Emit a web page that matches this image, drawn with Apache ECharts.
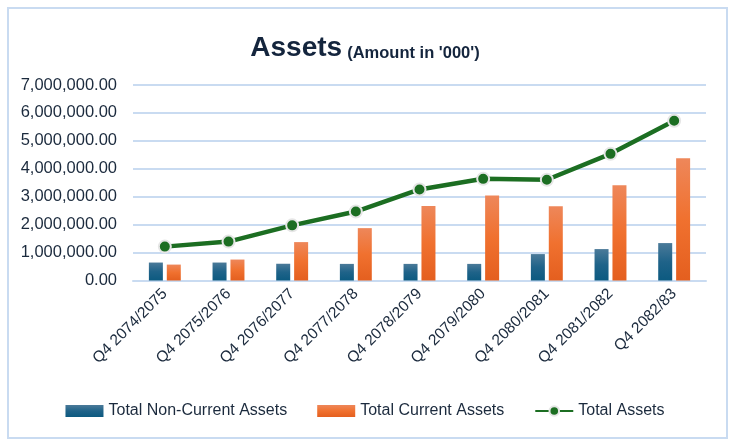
<!DOCTYPE html>
<html>
<head>
<meta charset="utf-8">
<script src="https://cdn.jsdelivr.net/npm/echarts@6/dist/echarts.min.js"></script>
<style>
  html, body { margin: 0; padding: 0; background: #fff; }
  #chart { width: 730px; height: 445px; }
</style>
</head>
<body>
<div id="chart"></div>
<script>
const categories = ['Q4 2074/2075', 'Q4 2075/2076', 'Q4 2076/2077', 'Q4 2077/2078', 'Q4 2078/2079', 'Q4 2079/2080', 'Q4 2080/2081', 'Q4 2081/2082', 'Q4 2082/83'];
const nonCurrentAssets = [643000, 643000, 600000, 595000, 595000, 595000, 946000, 1125000, 1340000];
const currentAssets = [570000, 750000, 1375000, 1875000, 2665000, 3045000, 2660000, 3410000, 4380000];
const totalAssets = [1213000, 1393000, 1975000, 2470000, 3260000, 3640000, 3606000, 4535000, 5720000];

const chart = echarts.init(document.getElementById('chart'));
const fontFamily = '"Liberation Sans", Arial, sans-serif';
const textColor = '#1B2A3D';

function fmt(v) {
  return Number(v).toLocaleString('en-US', { minimumFractionDigits: 2, maximumFractionDigits: 2 });
}

chart.setOption({
  animation: false,
  backgroundColor: '#ffffff',
  graphic: [{
    type: 'rect',
    shape: { x: 8, y: 8, width: 719, height: 430 },
    style: { fill: 'none', stroke: '#C9DBF1', lineWidth: 2 },
    silent: true
  }],
  title: {
    text: "{a|Assets} {b|(Amount in '000')}",
    left: 'center',
    top: 23,
    textStyle: {
      rich: {
        a: { fontFamily: fontFamily, fontSize: 28, fontWeight: 'bold', color: '#14253D', verticalAlign: 'bottom', lineHeight: 34 },
        b: { fontFamily: fontFamily, fontSize: 16.5, fontWeight: 'bold', color: '#14253D', verticalAlign: 'bottom', lineHeight: 30 }
      }
    }
  },
  legend: {
    bottom: 21,
    left: 'center',
    itemWidth: 38,
    itemHeight: 12,
    itemGap: 30,
    textStyle: { fontFamily: fontFamily, fontSize: 16, color: textColor, padding: [0, 0, 0, 0] },
    data: [
      { name: 'Total Non-Current Assets', icon: 'rect' },
      { name: 'Total Current Assets', icon: 'rect' },
      { name: 'Total Assets' }
    ]
  },
  grid: { left: 133, right: 24, top: 85, bottom: 164.5, containLabel: false },
  xAxis: {
    type: 'category',
    data: categories,
    axisLine: { show: true, lineStyle: { color: '#C9DBF1', width: 2 } },
    axisTick: { show: false },
    axisLabel: {
      rotate: 45,
      interval: 0,
      margin: 11,
      fontFamily: fontFamily,
      fontSize: 15.5,
      color: textColor
    }
  },
  yAxis: {
    type: 'value',
    min: 0,
    max: 7000000,
    interval: 1000000,
    axisLine: { show: false },
    axisTick: { show: false },
    splitLine: { lineStyle: { color: '#C9DBF1', width: 2 } },
    axisLabel: {
      formatter: fmt,
      margin: 16,
      fontFamily: fontFamily,
      fontSize: 16.5,
      color: textColor
    }
  },
  series: [
    {
      name: 'Total Non-Current Assets',
      type: 'bar',
      data: nonCurrentAssets,
      barWidth: 14,
      barGap: '28%',
      itemStyle: {
        color: {
          type: 'linear', x: 0, y: 0, x2: 0, y2: 1,
          colorStops: [
            { offset: 0, color: '#4B7A99' },
            { offset: 0.5, color: '#1F6389' },
            { offset: 1, color: '#0C5A80' }
          ]
        }
      }
    },
    {
      name: 'Total Current Assets',
      type: 'bar',
      data: currentAssets,
      barWidth: 14,
      itemStyle: {
        color: {
          type: 'linear', x: 0, y: 0, x2: 0, y2: 1,
          colorStops: [
            { offset: 0, color: '#EE875A' },
            { offset: 0.5, color: '#F0712F' },
            { offset: 1, color: '#E45F1F' }
          ]
        }
      }
    },
    {
      name: 'Total Assets',
      type: 'line',
      data: totalAssets,
      symbol: 'circle',
      symbolSize: 12,
      lineStyle: { color: '#1C6E22', width: 4.5 },
      itemStyle: { color: '#1C6E22', borderColor: '#E6E6E6', borderWidth: 2 },
      z: 5
    }
  ]
});
</script>
</body>
</html>
